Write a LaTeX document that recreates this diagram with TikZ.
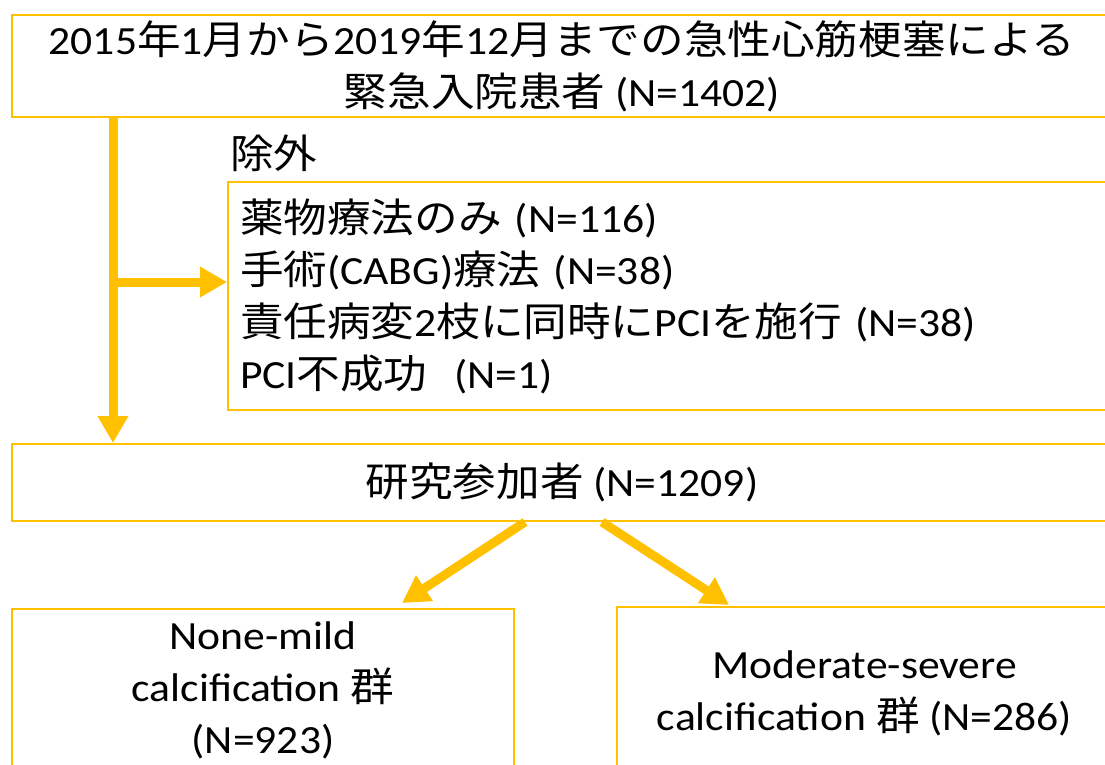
\documentclass[tikz,border=0pt]{standalone}
\usepackage{fontspec}
\setmainfont{Carlito}[FakeStretch=1.09]
\newfontfamily\jp{Noto Sans CJK JP}[FakeStretch=1.09]
\newcommand\J[1]{{\jp #1}}
\usetikzlibrary{arrows.meta}
\definecolor{gold}{RGB}{255,192,0}
\begin{document}
\begin{tikzpicture}[x=1pt,y=-1pt,
  box/.style={draw=gold, line width=2pt, inner sep=0pt, rectangle},
  txt/.style={font=\fontsize{40}{52}\selectfont},
  arr/.style={draw=gold, line width=9pt, -{Triangle[length=27pt,width=29pt]}}]
\useasboundingbox (0,0) rectangle (1105,764);
\clip (0,0) rectangle (1105,764);
\fill[white] (0,0) rectangle (1105,764);

\node[box, txt, minimum width=1100pt, minimum height=102pt, align=center] (top) at (562,66)
  {2015\J{年}1\J{月から}2019\J{年}12\J{月までの急性心筋梗塞による}\\\J{緊急入院患者} (N=1402)};

\node[txt, inner sep=0pt, anchor=west] (exlabel) at (230,153) {\J{除外}};

\node[box, txt, text width=860pt, inner xsep=12pt, minimum height=228pt, align=left] (excl) at (670,296)
  {\J{薬物療法のみ} (N=116)\\
   \J{手術}(CABG)\J{療法} (N=38)\\
   \J{責任病変}2\J{枝に同時に}PCI\J{を施行} (N=38)\\
   PCI\J{不成功}\ \ (N=1)};

\node[box, txt, minimum width=1100pt, minimum height=77pt, align=center] (mid) at (562,482.5)
  {\J{研究参加者} (N=1209)};

\node[box, txt, minimum width=502pt, minimum height=162pt, align=center] (lb) at (263,690)
  {None-mild\\calcification \J{群}\\(N=923)};

\node[box, txt, minimum width=495pt, minimum height=172pt, align=center] (rb) at (864.5,693)
  {Moderate-severe\\calcification \J{群} (N=286)};

\coordinate (vx) at (113,0);
\coordinate (br) at (113,282);
\coordinate (ls) at (525,0);
\coordinate (le) at (402,603);
\coordinate (rs) at (602,0);
\coordinate (re) at (729,605);

\draw[arr] (top.south -| vx) -- (mid.north -| vx);
\draw[arr] (br) -- (br -| excl.west);
\draw[arr] (mid.south -| ls) -- (le);
\draw[arr] (mid.south -| rs) -- (re);
\end{tikzpicture}
\end{document}
